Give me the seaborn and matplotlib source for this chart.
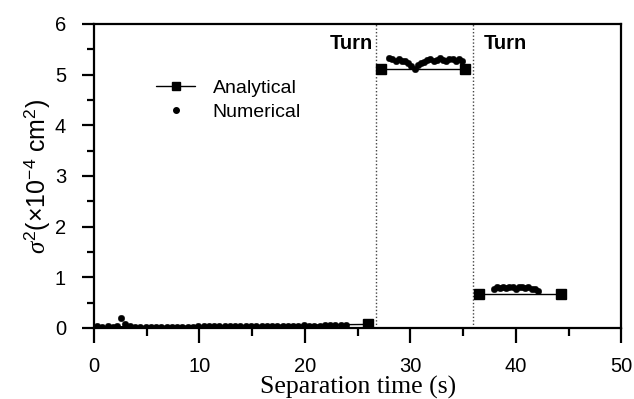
import numpy as np
import matplotlib
matplotlib.use("Agg")
import matplotlib.pyplot as plt
from matplotlib.lines import Line2D
import seaborn as sns

# -------------------------------
# Data
# -------------------------------

# analytical solution, three segments (before turn, between turns, after turn)
ana1_t = [0.0, 26.0]
ana1_s = [0.02, 0.07]
ana2_t = [27.2, 35.2]
ana2_s = [5.11, 5.11]
ana3_t = [36.5, 44.3]
ana3_s = [0.68, 0.68]

# numerical solution
num1_t = [0.3, 0.8, 1.3, 1.8, 2.2, 2.6, 3.0, 3.4, 3.9, 4.4, 4.9, 5.4, 5.9, 6.4,
          6.9, 7.4, 7.9, 8.4, 8.9, 9.4, 9.9, 10.4, 10.9, 11.4, 11.9, 12.4, 12.9,
          13.4, 13.9, 14.4, 14.9, 15.4, 15.9, 16.4, 16.9, 17.4, 17.9, 18.4, 18.9,
          19.4, 19.9, 20.4, 20.9, 21.4, 21.9, 22.4, 22.9, 23.4, 23.9]
num1_s = [0.03, 0.02, 0.03, 0.01, 0.03, 0.19, 0.08, 0.04, 0.02, 0.02, 0.02, 0.02,
          0.02, 0.02, 0.02, 0.02, 0.02, 0.02, 0.02, 0.02, 0.03, 0.03, 0.03, 0.03,
          0.03, 0.03, 0.03, 0.03, 0.03, 0.03, 0.03, 0.04, 0.03, 0.04, 0.04, 0.04,
          0.04, 0.04, 0.04, 0.04, 0.05, 0.04, 0.04, 0.04, 0.05, 0.06, 0.06, 0.06, 0.05]
num2_t = [28.0, 28.3, 28.6, 28.9, 29.2, 29.5, 29.8, 30.1, 30.4, 30.7, 31.0, 31.3,
          31.6, 31.9, 32.2, 32.5, 32.8, 33.1, 33.4, 33.7, 34.0, 34.3, 34.6, 34.9]
num2_s = [5.33, 5.30, 5.27, 5.30, 5.26, 5.27, 5.22, 5.17, 5.12, 5.18, 5.22, 5.25,
          5.28, 5.30, 5.26, 5.29, 5.32, 5.29, 5.27, 5.31, 5.30, 5.26, 5.31, 5.27]
num3_t = [37.9, 38.2, 38.5, 38.8, 39.1, 39.4, 39.7, 40.0, 40.3, 40.6, 40.9, 41.2,
          41.5, 41.8, 42.1]
num3_s = [0.76, 0.80, 0.79, 0.81, 0.78, 0.80, 0.81, 0.77, 0.80, 0.81, 0.78, 0.80,
          0.76, 0.77, 0.72]

turn_t = [26.75, 35.95]

# -------------------------------
# Plot
# -------------------------------

sns.set_style("ticks")
plt.rcParams["font.family"] = ["Liberation Sans", "DejaVu Sans"]
plt.rcParams["text.color"] = "black"
plt.rcParams["axes.labelcolor"] = "black"
plt.rcParams["mathtext.fontset"] = "custom"
plt.rcParams["mathtext.rm"] = "Liberation Sans"
plt.rcParams["mathtext.it"] = "Liberation Serif:italic"

fig = plt.figure(figsize=(6.34, 3.99), dpi=100)
ax = fig.add_axes([0.148, 0.178, 0.832, 0.762])

for t, s, mk in [(ana1_t, ana1_s, [1]), (ana2_t, ana2_s, None), (ana3_t, ana3_s, None)]:
    ax.plot(t, s, color="black", lw=1.0, marker="s", ms=6.5, markevery=mk, zorder=3)

for t, s in [(num1_t, num1_s), (num2_t, num2_s), (num3_t, num3_s)]:
    sns.scatterplot(x=t, y=s, ax=ax, color="black", s=22, edgecolor="black",
                    linewidth=0.3, zorder=4, legend=False)

for tt in turn_t:
    ax.axvline(tt, color="#444444", ls=(0, (1, 1.5)), lw=1.0, zorder=2)

ax.text(26.45, 5.62, "Turn", ha="right", va="center", fontsize=14.5, fontweight="bold")
ax.text(37.0, 5.62, "Turn", ha="left", va="center", fontsize=14.5, fontweight="bold")

ax.set_xlim(0, 50)
ax.set_ylim(0, 6)
ax.set_xticks([0, 10, 20, 30, 40, 50])
ax.set_xticks([5, 15, 25, 35, 45], minor=True)
ax.set_yticks([0, 1, 2, 3, 4, 5, 6])
ax.set_yticks(np.arange(0.5, 6, 1.0), minor=True)

for side in ["top", "right", "bottom", "left"]:
    ax.spines[side].set_linewidth(1.6)
    ax.spines[side].set_color("black")
ax.tick_params(which="major", length=11, width=1.6, labelsize=14.5, colors="black")
ax.tick_params(which="minor", length=5.5, width=1.6, colors="black")
ax.tick_params(axis="x", which="major", pad=10)
ax.tick_params(axis="y", which="major", length=9, pad=11)
ax.tick_params(axis="y", which="minor", length=5)

ax.set_xlabel("Separation time (s)", family=["Liberation Serif"], fontsize=18.5, labelpad=0)
ax.set_ylabel(r"$\it{\sigma}^2$(×10$^{\mathregular{-4}}$ cm$^2$)", fontsize=18, labelpad=2)

handles = [
    Line2D([], [], color="black", lw=1.0, marker="s", ms=6),
    Line2D([], [], color="black", lw=0, marker="o", ms=4),
]
ax.legend(handles, ["Analytical", "Numerical"], loc="upper left",
          bbox_to_anchor=(0.085, 0.875), frameon=False, fontsize=14,
          handlelength=2.0, handletextpad=0.9, labelspacing=0.3)

fig.savefig("out.png", dpi=100)
